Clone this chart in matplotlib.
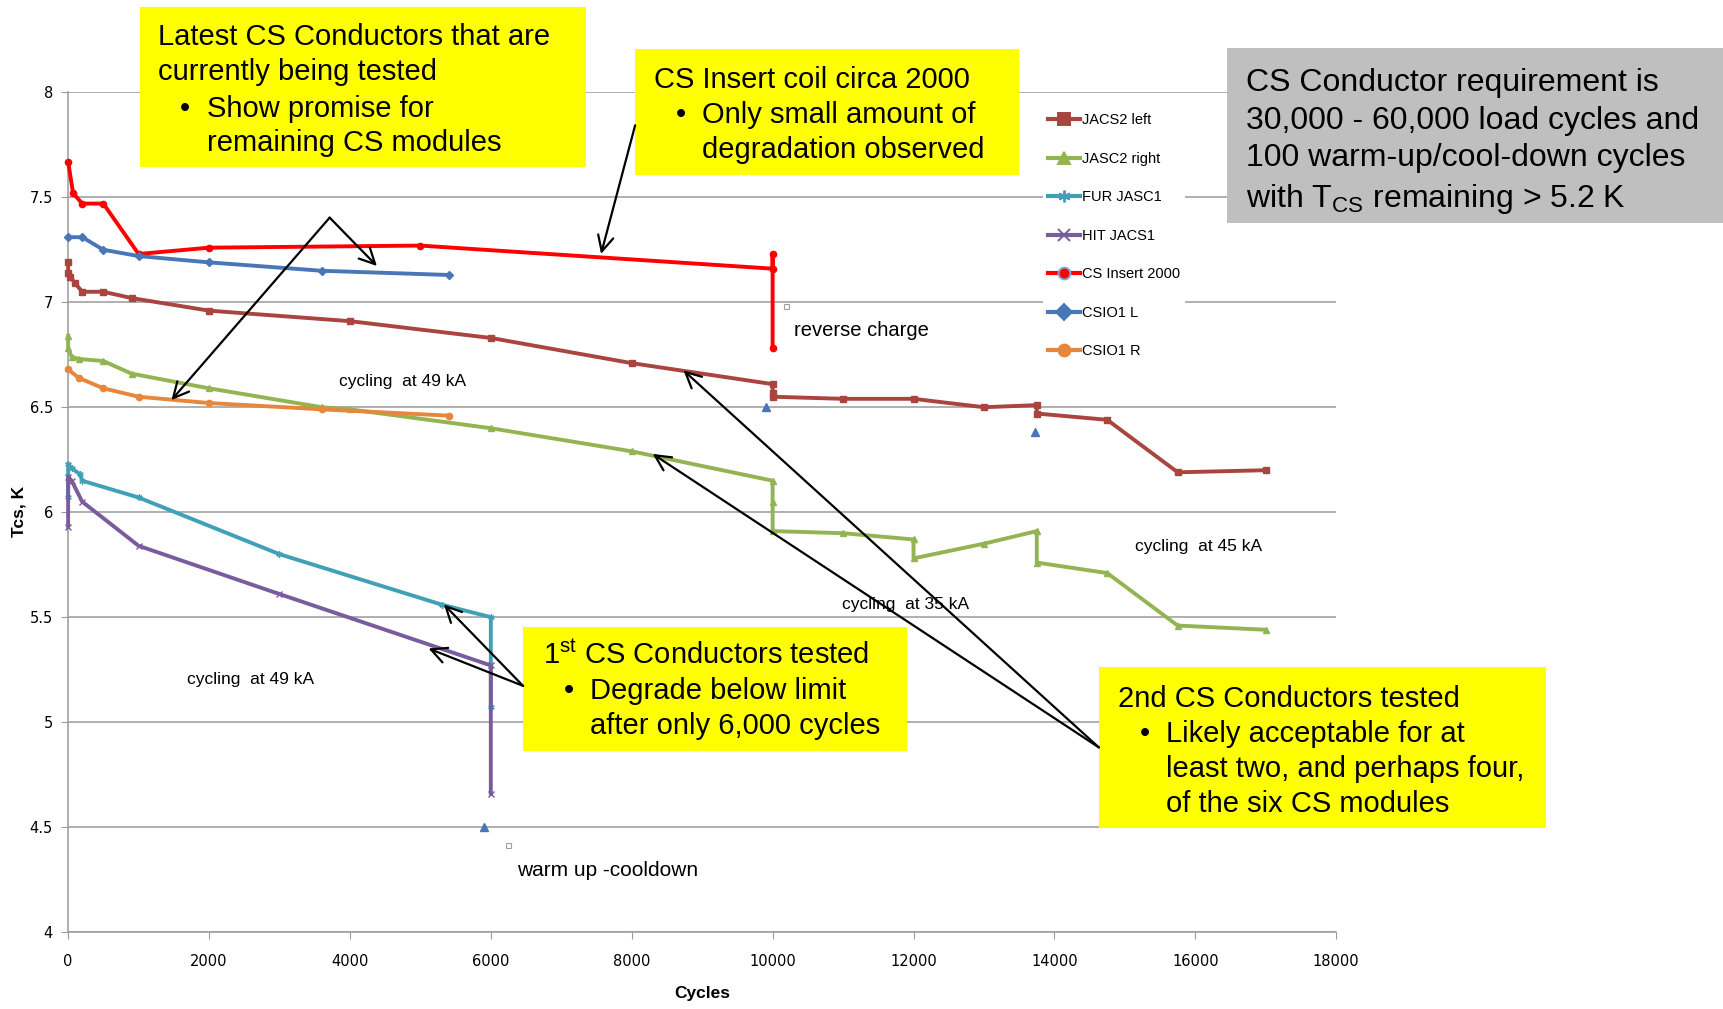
"""CS conductor Tcs vs cycles — recreation"""

import matplotlib
matplotlib.use("Agg")
import matplotlib.pyplot as plt
from matplotlib.patches import Rectangle, FancyArrowPatch
from matplotlib.lines import Line2D
import numpy as np

plt.rcParams['font.family'] = ['Liberation Sans', 'DejaVu Sans']
plt.rcParams['mathtext.fontset'] = 'custom'
plt.rcParams['mathtext.rm'] = 'Liberation Sans'

# === data ===
jacs2_left_x = [0, 0, 30, 100, 200, 500, 900, 2000, 4000, 6000, 8000, 10000, 10000, 10000,
                11000, 12000, 13000, 13750, 13750, 14750, 15750, 17000]
jacs2_left_y = [7.19, 7.14, 7.12, 7.09, 7.05, 7.05, 7.02, 6.96, 6.91, 6.83, 6.71, 6.61, 6.57, 6.55,
                6.54, 6.54, 6.50, 6.51, 6.47, 6.44, 6.19, 6.20]

jasc2_right_x = [0, 0, 50, 150, 500, 900, 2000, 3600, 4000, 6000, 8000, 10000, 10000, 10000,
                 11000, 12000, 12000, 13000, 13750, 13750, 14750, 15750, 17000]
jasc2_right_y = [6.84, 6.78, 6.74, 6.73, 6.72, 6.66, 6.59, 6.50, 6.49, 6.40, 6.29, 6.15, 6.05, 5.91,
                 5.90, 5.87, 5.78, 5.85, 5.91, 5.76, 5.71, 5.46, 5.44]

fur_x = [0, 0, 50, 170, 200, 1000, 3000, 5300, 6000, 6000]
fur_y = [6.07, 6.23, 6.21, 6.18, 6.15, 6.07, 5.80, 5.56, 5.50, 5.07]

hit_x = [0, 0, 50, 200, 1000, 3000, 6000, 6000]
hit_y = [5.93, 6.17, 6.15, 6.05, 5.84, 5.61, 5.27, 4.66]

cs_insert_x = [0, 70, 200, 500, 1000, 2000, 5000, 10000, 10000, 10000]
cs_insert_y = [7.67, 7.52, 7.47, 7.47, 7.23, 7.26, 7.27, 7.16, 7.23, 6.78]

csio1l_x = [0, 200, 500, 1000, 2000, 3600, 5400]
csio1l_y = [7.31, 7.31, 7.25, 7.22, 7.19, 7.15, 7.13]
csio1l_extra_x = [5900, 9900, 13730]
csio1l_extra_y = [4.50, 6.50, 6.38]

csio1r_x = [0, 150, 500, 1000, 2000, 3600, 5400]
csio1r_y = [6.68, 6.64, 6.59, 6.55, 6.52, 6.49, 6.46]

series = [
    ("JACS2 left", jacs2_left_x, jacs2_left_y, '#A9443F', 's'),
    ("JASC2 right", jasc2_right_x, jasc2_right_y, '#93B452', '^'),
    ("FUR JASC1", fur_x, fur_y, '#3FA0B8', (6, 2, 0)),
    ("HIT JACS1", hit_x, hit_y, '#7A5B9E', 'x'),
    ("CS Insert 2000", cs_insert_x, cs_insert_y, '#FF0000', 'o'),
    ("CSIO1 L", csio1l_x, csio1l_y, '#4876B6', 'D'),
    ("CSIO1 R", csio1r_x, csio1r_y, '#E6873C', 'o'),
]

W, H = 1568, 918   # layout coordinates (scaled to figure fraction)


def fx(x):
    return x / W


def fy(y):
    return 1 - y / H


fig = plt.figure(figsize=(17.23, 10.09), dpi=100)
ax = fig.add_axes([fx(62), fy(848), fx(1216) - fx(62), fy(84) - fy(848)])

for name, xs, ys, col, mk in series:
    ax.plot(xs, ys, color=col, lw=2.8, marker=mk, ms=4.5, mew=1.0, clip_on=False, zorder=3)
ax.plot(csio1l_extra_x, csio1l_extra_y, ls='none', marker='^', ms=6, color='#4876B6',
        clip_on=False, zorder=3)

ax.set_xlim(0, 18000)
ax.set_ylim(4, 8)
ax.set_xticks(np.arange(0, 18001, 2000))
ax.set_yticks(np.arange(4, 8.01, 0.5))
ax.set_yticklabels(['4', '4.5', '5', '5.5', '6', '6.5', '7', '7.5', '8'])
ax.grid(axis='y', color='#9A9A9A', lw=1.1)
ax.set_axisbelow(True)
for s in ['top', 'right']:
    ax.spines[s].set_visible(False)
for s in ['left', 'bottom']:
    ax.spines[s].set_color('#9A9A9A')
    ax.spines[s].set_linewidth(1.1)
ax.tick_params(colors='#9A9A9A', labelcolor='black', labelsize=10.5, length=5)
ax.tick_params(axis='x', pad=11)
ax.tick_params(axis='y', pad=6)
for lab in ax.get_xticklabels() + ax.get_yticklabels():
    lab.set_family('DejaVu Sans')

fig.text(fx(17), fy(465), "Tcs, K", rotation=90, ha='center', va='center',
         fontsize=12.5, fontweight='bold')
fig.text(fx(639), fy(904), "Cycles", ha='center', va='center',
         fontsize=12.5, fontweight='bold')

# legend
handles = []
for name, xs, ys, col, mk in series:
    mec = '#7FA7D9' if name == "CS Insert 2000" else col
    handles.append(Line2D([], [], color=col, lw=3, marker=mk, ms=8.5, mew=1.4, mec=mec, label=name))
leg = ax.legend(handles=handles, loc='upper left', bbox_to_anchor=(0.763, 0.99),
                frameon=True, facecolor='white', edgecolor='none', framealpha=1,
                labelspacing=1.68, handlelength=2.2, handletextpad=0.1,
                borderpad=0.35, prop={'size': 10.5})

# in-plot notes
notes = [
    (366, 347, "cycling  at 49 kA", 12.5),
    (228, 618, "cycling  at 49 kA", 12.5),
    (824, 550, "cycling  at 35 kA", 12.5),
    (1091, 497, "cycling  at 45 kA", 12.5),
    (784, 301, "reverse charge", 14.5),
    (553, 792, "warm up -cooldown", 15),
]
for x, y, t, s in notes:
    fig.text(fx(x), fy(y), t, ha='center', va='center', fontsize=s, zorder=4)

# small hollow handle squares near the notes
for x, y in [(716, 279), (463, 769)]:
    fig.add_artist(Rectangle((fx(x) - 0.0015, fy(y) - 0.0025), 0.003, 0.005,
                             transform=fig.transFigure, facecolor='white',
                             edgecolor='#A0A0A0', lw=0.8, zorder=4))

# callout boxes
boxes = [
    ((127, 6, 533, 152), '#FFFF00'),
    ((578, 45, 927, 159), '#FFFF00'),
    ((1117, 44, 1568, 203), '#BFBFBF'),
    ((476, 570, 825, 683), '#FFFF00'),
    ((1000, 607, 1407, 753), '#FFFF00'),
]
for (x0, y0, x1, y1), c in boxes:
    fig.add_artist(Rectangle((fx(x0), fy(y1)), fx(x1) - fx(x0), fy(y0) - fy(y1),
                             transform=fig.transFigure, facecolor=c, edgecolor='none', zorder=5))

box_lines = [
    (144, 31, "Latest CS Conductors that are", 21),
    (144, 63, "currently being tested", 21),
    (164, 96, "\u2022", 21), (188, 96, "Show promise for", 21),
    (188, 127, "remaining CS modules", 21),
    (595, 70, "CS Insert coil circa 2000", 21),
    (615, 102, "\u2022", 21), (639, 102, "Only small amount of", 21),
    (639, 134, "degradation observed", 21),
    (1134, 72, "CS Conductor requirement is", 23),
    (1134, 107, "30,000 - 60,000 load cycles and", 23),
    (1134, 141, "100 warm-up/cool-down cycles", 23),
    (1134, 177, "with T$_{\\rm CS}$ remaining > 5.2 K", 23),
    (494, 594, "1$^{\\rm st}$ CS Conductors tested", 21),
    (513, 626, "\u2022", 21), (537, 626, "Degrade below limit", 21),
    (537, 658, "after only 6,000 cycles", 21),
    (1017, 633, "2nd CS Conductors tested", 21),
    (1037, 665, "\u2022", 21), (1061, 665, "Likely acceptable for at", 21),
    (1061, 697, "least two, and perhaps four,", 21),
    (1061, 729, "of the six CS modules", 21),
]
for x, y, t, s in box_lines:
    fig.text(fx(x), fy(y), t, ha='left', va='center_baseline', fontsize=s, zorder=6)

# arrows
arrows = [
    ((300, 198), (343, 242)),
    ((300, 198), (156, 364)),
    ((578, 114), (547, 231)),
    ((476, 624), (404, 550)),
    ((476, 624), (390, 590)),
    ((1000, 680), (622, 337)),
    ((1000, 680), (594, 413)),
]
for (x0, y0), (x1, y1) in arrows:
    fig.add_artist(FancyArrowPatch((fx(x0), fy(y0)), (fx(x1), fy(y1)),
                                   transform=fig.transFigure, arrowstyle='->',
                                   mutation_scale=28, lw=1.6, color='black',
                                   shrinkA=0, shrinkB=0, zorder=7))

plt.savefig('out.png', dpi=100)
